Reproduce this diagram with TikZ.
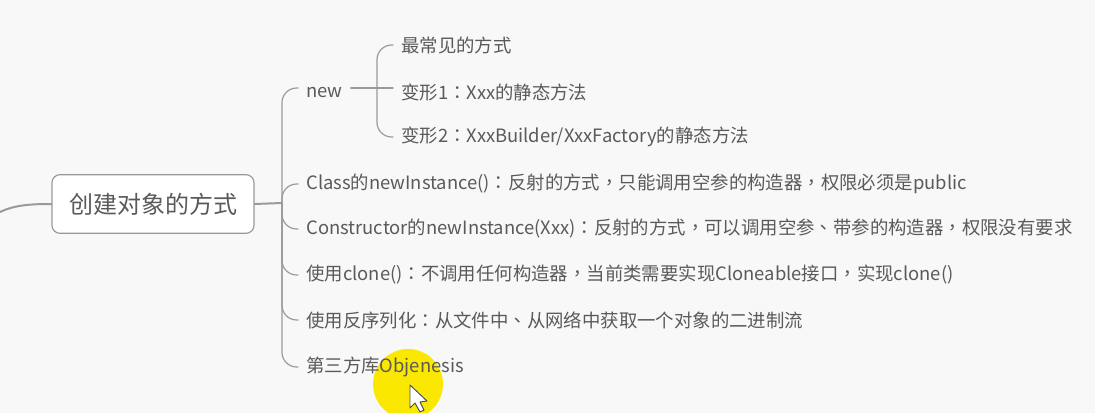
\documentclass[tikz,border=0pt]{standalone}
\usepackage{fontspec}
\setmainfont{Noto Sans CJK SC}
\newfontfamily\puncfont{Noto Sans CJK TC}
\newcommand{\cln}{{\puncfont ：}}
\newcommand{\cma}{{\puncfont ，}}
\newcommand{\dun}{{\puncfont 、}}
\usetikzlibrary{positioning}
\definecolor{bgcol}{HTML}{F8F8F9}
\definecolor{txtcol}{HTML}{5A5A5A}
\definecolor{linecol}{HTML}{9A9A9A}
\definecolor{markcol}{HTML}{FAE800}
\tikzset{
	rootbox/.style={draw=linecol, line width=0.9pt, fill=white, rounded corners=6pt, minimum width=151.5pt, minimum height=44pt, inner sep=0pt, font=\fontsize{18}{18}\selectfont},
	leaf/.style={anchor=west, inner xsep=6pt, inner ysep=1pt, font=\fontsize{13.8}{13.8}\selectfont},
	branch/.style={draw=linecol, line width=0.9pt, rounded corners=11pt},
	trunk/.style={draw=linecol, line width=1.5pt}
}
\begin{document}
\begin{tikzpicture}[x=0.75pt, y=-0.75pt, text=txtcol, line join=round, line cap=round]
	\clip (0,0) rectangle (1095,413);
	\fill[bgcol] (0,0) rectangle (1095,413);
	\fill[markcol] (408,384) circle (35);

	\node[rootbox] (root) at (153,204) {创建对象的方式};

	\coordinate (entry) at (0,212);
	\coordinate (hub) at (282,203);
	\coordinate (subhub) at (377,88);

	\node[leaf] (new) at (298,92) {new};
	\node[leaf] (common) at (393,45) {最常见的方式};
	\node[leaf] (varone) at (393,92) {变形1\cln Xxx的静态方法};
	\node[leaf] (vartwo) at (393,137) {变形2\cln XxxBuilder/XxxFactory的静态方法};
	\node[leaf] (cls) at (298,184) {Class的newInstance()\cln 反射的方式\cma 只能调用空参的构造器\cma 权限必须是public};
	\node[leaf] (ctor) at (298,229) {Constructor的newInstance(Xxx)\cln 反射的方式\cma 可以调用空参\dun 带参的构造器\cma 权限没有要求};
	\node[leaf] (clone) at (298,275) {使用clone()\cln 不调用任何构造器\cma 当前类需要实现Cloneable接口\cma 实现clone()};
	\node[leaf] (serial) at (298,320) {使用反序列化\cln 从文件中\dun 从网络中获取一个对象的二进制流};
	\node[leaf] (third) at (298,367) {第三方库Objenesis};

	\draw[trunk] (entry) .. controls (15,205) and (30,204) .. (root.west);
	\draw[trunk] (root.east) -- (hub);
	\draw[branch] (hub) |- (new.west |- subhub);
	\draw[branch] (hub) |- (cls.west);
	\draw[branch] (hub) |- (ctor.west);
	\draw[branch] (hub) |- (clone.west);
	\draw[branch] (hub) |- (serial.west);
	\draw[branch] (hub) |- (third.west);
	\draw[branch] (new.east |- subhub) -- (varone.west |- subhub);
	\draw[branch] (subhub) |- (common.west);
	\draw[branch] (subhub) |- (vartwo.west);

	\draw[black!70, fill=white, line width=0.7pt] (410,385) -- (410,408) -- (415,403) -- (420,412) -- (424,410) -- (420,402) -- (427,401) -- cycle;
\end{tikzpicture}
\end{document}
